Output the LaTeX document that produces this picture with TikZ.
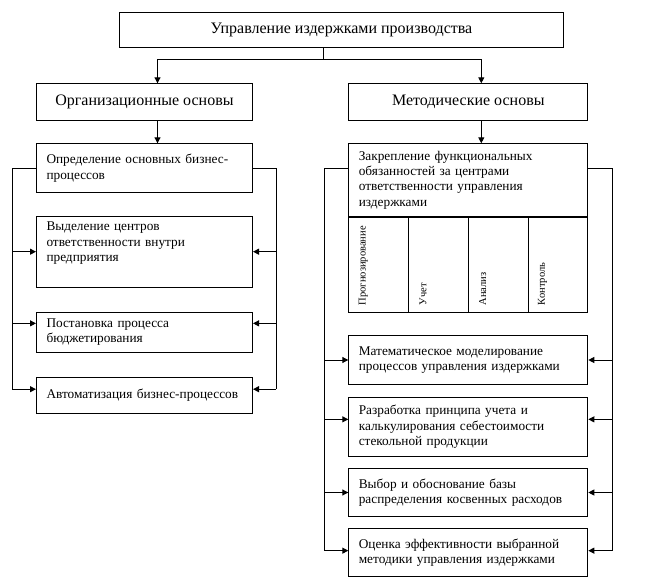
\documentclass[tikz,border=0pt]{standalone}
\usepackage{fontspec}
\setmainfont{Liberation Serif}
\usetikzlibrary{arrows.meta,calc,positioning}

\begin{document}
\begin{tikzpicture}[x=1pt, y=-1pt, >={Triangle[length=6pt,width=6pt]}, line width=1pt,
    hbox/.style={draw, anchor=north west, inner sep=0pt, align=center,
      font=\fontsize{16}{18}\selectfont},
    tbox/.style={draw, anchor=north west, inner xsep=10pt, inner ysep=0pt, align=left,
      font=\fontsize{13.3}{15.3}\selectfont},
    lbox/.style={tbox, text width=196pt},
    rbox/.style={tbox, text width=219pt},
    cell/.style={draw, anchor=north west, inner sep=0pt,
      minimum width=59.75pt, minimum height=95.7pt},
    vtxt/.style={rotate=90, anchor=west, inner sep=0pt,
      font=\fontsize{10.5}{12}\selectfont}]
    \useasboundingbox (0,0) rectangle (648,588);
    % headers
    \node[hbox, minimum width=444pt, minimum height=35.6pt] (top) at (119,11.7)
      {Управление издержками производства};
    \node[hbox, minimum width=216pt, minimum height=36.7pt] (org) at (36,83.3)
      {Организационные основы};
    \node[hbox, minimum width=239pt, minimum height=36.7pt] (meth) at (348.3,83.3)
      {Методические основы};
    % left column
    \node[lbox, minimum height=49pt] (opr) at (36,143.3)
      {Определение основных бизнес-\\процессов};
    \node[lbox, minimum height=71pt] (vyd) at (36,215.7)
      {Выделение центров\\ответственности внутри\\предприятия\\\strut};
    \node[lbox, minimum height=40.3pt] (post) at (36,311.7)
      {Постановка процесса\\бюджетирования};
    \node[lbox, minimum height=36pt] (avt) at (36,376.7)
      {Автоматизация бизнес-процессов};
    % right column
    \node[rbox, minimum height=72.7pt] (zak) at (348.3,143.3)
      {Закрепление функциональных\\обязанностей за центрами\\ответственности управления\\издержками};
    \foreach \i/\t in {1/Прогнозирование, 2/Учет, 3/Анализ, 4/Контроль}{
      \node[cell] (c\i) at (348.3+59.75*\i-59.75, 216) {};
      \node[vtxt] (v\i) at ($(c\i.south west)+(15,-7)$) {\t};
    }
    \draw[line width=2pt] (zak.south west) -- (zak.south east);
    \node[rbox, minimum height=49pt] (mat) at (348.3,335)
      {Математическое моделирование\\процессов управления издержками};
    \node[rbox, minimum height=59.3pt] (raz) at (348.3,396.7)
      {Разработка принципа учета и\\калькулирования себестоимости\\стекольной продукции};
    \node[rbox, minimum height=47.4pt] (vyb) at (348.3,468.3)
      {Выбор и обоснование базы\\распределения косвенных расходов};
    \node[rbox, minimum height=47.7pt] (oc) at (348.3,528.3)
      {Оценка эффективности выбранной\\методики управления издержками};
    % connectors
    \coordinate (split) at (323.3,59.3);
    \draw (top.south -| split) -- (split);
    \draw[->] (split) -| ($(org.north)+(13,0)$);
    \draw[->] (split) -| ($(meth.north)+(13,0)$);
    \draw[->] ($(org.south)+(13,0)$) -- ($(opr.north)+(13,0)$);
    \draw[->] ($(meth.south)+(13,0)$) -- ($(zak.north)+(13,0)$);
    % brackets
    \coordinate (lbr) at (12,0);
    \coordinate (rbr) at (276,0);
    \coordinate (lbrr) at (324,0);
    \coordinate (rbrr) at (612,0);
    \draw (opr.west) -- (opr.west -| lbr) -- ([yshift=6pt]avt.west -| lbr);
    \draw (opr.east) -- (opr.east -| rbr) -- ([yshift=6pt]avt.east -| rbr);
    \foreach \b/\s in {vyd/0, post/9, avt/6}{
      \draw[->] ([yshift=\s pt]\b.west -| lbr) -- ([yshift=\s pt]\b.west);
      \draw[->] ([yshift=\s pt]\b.east -| rbr) -- ([yshift=\s pt]\b.east);
    }
    \draw ([yshift=12pt]zak.west) -- ([yshift=12pt]zak.west -| lbrr)
      -- ([yshift=2pt]oc.west -| lbrr);
    \draw ([yshift=12pt]zak.east) -- ([yshift=12pt]zak.east -| rbrr)
      -- ([yshift=2pt]oc.east -| rbrr);
    \foreach \b/\s in {mat/0, raz/7.5, vyb/0, oc/2}{
      \draw[->] ([yshift=\s pt]\b.west -| lbrr) -- ([yshift=\s pt]\b.west);
      \draw[->] ([yshift=\s pt]\b.east -| rbrr) -- ([yshift=\s pt]\b.east);
    }
\end{tikzpicture}
\end{document}
